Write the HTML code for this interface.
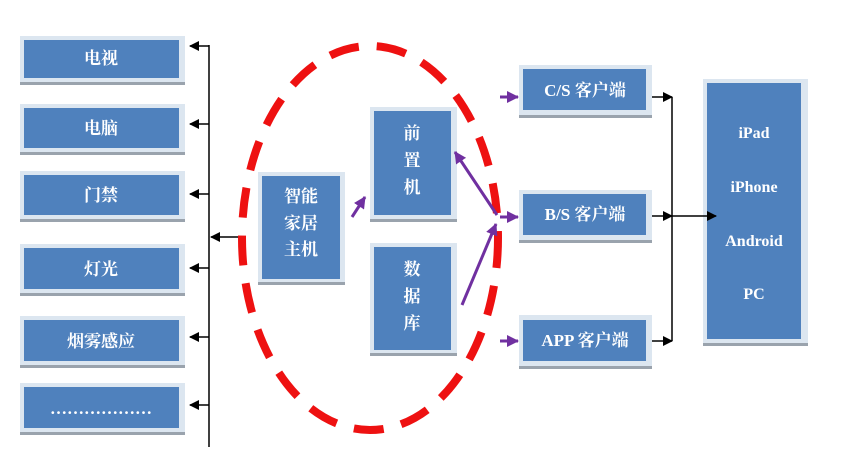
<!DOCTYPE html>
<html><head><meta charset="utf-8"><style>
body{margin:0;background:#fff}
svg text{font-family:"Liberation Serif","Noto Serif CJK SC","Noto Sans CJK SC",serif;font-weight:bold;fill:#fff;text-anchor:middle}
</style></head><body>
<svg width="854" height="471" viewBox="0 0 854 471" xmlns="http://www.w3.org/2000/svg">
<defs>
<marker id="ab" markerWidth="10" markerHeight="10" refX="9" refY="5" orient="auto" markerUnits="userSpaceOnUse"><path d="M0,0 L10,5 L0,10z" fill="#000"/></marker>
<marker id="ap" markerWidth="12" markerHeight="12" refX="11" refY="6" orient="auto" markerUnits="userSpaceOnUse"><path d="M0,0 L12,6 L0,12z" fill="#7030a0"/></marker>
</defs>
<g id="boxes">
<g fill="#dce6f0"><rect x="20" y="36" width="165" height="46"/><rect x="20" y="104" width="165" height="48"/><rect x="20" y="171" width="165" height="48"/><rect x="20" y="244" width="165" height="49"/><rect x="20" y="316" width="165" height="49"/><rect x="20" y="383" width="165" height="49"/></g>
<g fill="#9aa3ad"><rect x="20" y="82" width="165" height="3"/><rect x="20" y="152" width="165" height="3"/><rect x="20" y="219" width="165" height="3"/><rect x="20" y="293" width="165" height="3"/><rect x="20" y="365" width="165" height="3"/><rect x="20" y="432" width="165" height="3"/></g>
<g fill="#4f81bd"><rect x="24" y="40" width="155" height="38"/><rect x="24" y="108" width="155" height="40"/><rect x="24" y="175" width="155" height="40"/><rect x="24" y="248" width="155" height="41"/><rect x="24" y="320" width="155" height="41"/><rect x="24" y="387" width="155" height="41"/></g>
<g font-size="17"><text x="101" y="64">电视</text><text x="101" y="134">电脑</text><text x="101" y="201">门禁</text><text x="101" y="275">灯光</text><text x="101" y="347">烟雾感应</text><text x="101" y="414">………………</text></g>
<rect x="258" y="172" width="87" height="113" fill="#dce6f0"/><rect x="258" y="282" width="87" height="3" fill="#9aa3ad"/><rect x="262" y="176" width="78" height="103" fill="#4f81bd"/>
<text x="301" y="202" font-size="17">智能</text><text x="301" y="229" font-size="17">家居</text><text x="301" y="255" font-size="17">主机</text>
<rect x="370" y="107" width="87" height="115" fill="#dce6f0"/><rect x="370" y="219" width="87" height="3" fill="#9aa3ad"/><rect x="374" y="111" width="77" height="104" fill="#4f81bd"/>
<text x="412" y="139" font-size="17">前</text><text x="412" y="166" font-size="17">置</text><text x="412" y="193" font-size="17">机</text>
<rect x="370" y="243" width="87" height="113" fill="#dce6f0"/><rect x="370" y="353" width="87" height="3" fill="#9aa3ad"/><rect x="374" y="247" width="77" height="103" fill="#4f81bd"/>
<text x="412" y="275" font-size="17">数</text><text x="412" y="302" font-size="17">据</text><text x="412" y="329" font-size="17">库</text>
<g fill="#dce6f0"><rect x="519" y="65" width="133" height="52"/><rect x="519" y="190" width="133" height="52"/><rect x="519" y="315" width="133" height="53"/></g>
<g fill="#9aa3ad"><rect x="519" y="115" width="133" height="3"/><rect x="519" y="240" width="133" height="3"/><rect x="519" y="366" width="133" height="3"/></g>
<g fill="#4f81bd"><rect x="523" y="69" width="123" height="41"/><rect x="523" y="194" width="123" height="41"/><rect x="523" y="320" width="123" height="41"/></g>
<g font-size="17"><text x="585" y="96">C/S 客户端</text><text x="585" y="220">B/S 客户端</text><text x="585" y="346">APP 客户端</text></g>
<rect x="703" y="79" width="105" height="267" fill="#dce6f0"/><rect x="703" y="343" width="105" height="3" fill="#9aa3ad"/><rect x="707" y="83" width="94" height="256" fill="#4f81bd"/>
<g font-size="16"><text x="754" y="138">iPad</text><text x="754" y="192">iPhone</text><text x="754" y="246">Android</text><text x="754" y="299">PC</text></g>
</g>
<g stroke="#000" stroke-width="1.5" fill="none">
<line x1="209" y1="45" x2="209" y2="447"/>
<line x1="209" y1="46" x2="190" y2="46" marker-end="url(#ab)"/>
<line x1="209" y1="124" x2="190" y2="124" marker-end="url(#ab)"/>
<line x1="209" y1="194" x2="190" y2="194" marker-end="url(#ab)"/>
<line x1="209" y1="268" x2="190" y2="268" marker-end="url(#ab)"/>
<line x1="209" y1="337" x2="190" y2="337" marker-end="url(#ab)"/>
<line x1="209" y1="405" x2="190" y2="405" marker-end="url(#ab)"/>
<line x1="240" y1="237" x2="211" y2="237" marker-end="url(#ab)"/>
<line x1="672" y1="97" x2="672" y2="341"/>
<line x1="652" y1="97" x2="672" y2="97" marker-end="url(#ab)"/>
<line x1="652" y1="216" x2="672" y2="216" marker-end="url(#ab)"/>
<line x1="652" y1="341" x2="672" y2="341" marker-end="url(#ab)"/>
<line x1="672" y1="216" x2="716" y2="216" marker-end="url(#ab)"/>
</g>
<ellipse cx="370" cy="238" rx="128" ry="192" fill="none" stroke="#ee1111" stroke-width="8" stroke-dasharray="30 18"/>
<g stroke="#7030a0" stroke-width="3" fill="none">
<line x1="500" y1="97" x2="518" y2="97" marker-end="url(#ap)"/>
<line x1="500" y1="217" x2="518" y2="217" marker-end="url(#ap)"/>
<line x1="500" y1="341" x2="518" y2="341" marker-end="url(#ap)"/>
<line x1="352" y1="217" x2="365" y2="197" marker-end="url(#ap)"/>
<line x1="497" y1="215" x2="455" y2="152" marker-end="url(#ap)"/>
<line x1="462" y1="305" x2="496" y2="224" marker-end="url(#ap)"/>
</g>
</svg>
</body></html>
